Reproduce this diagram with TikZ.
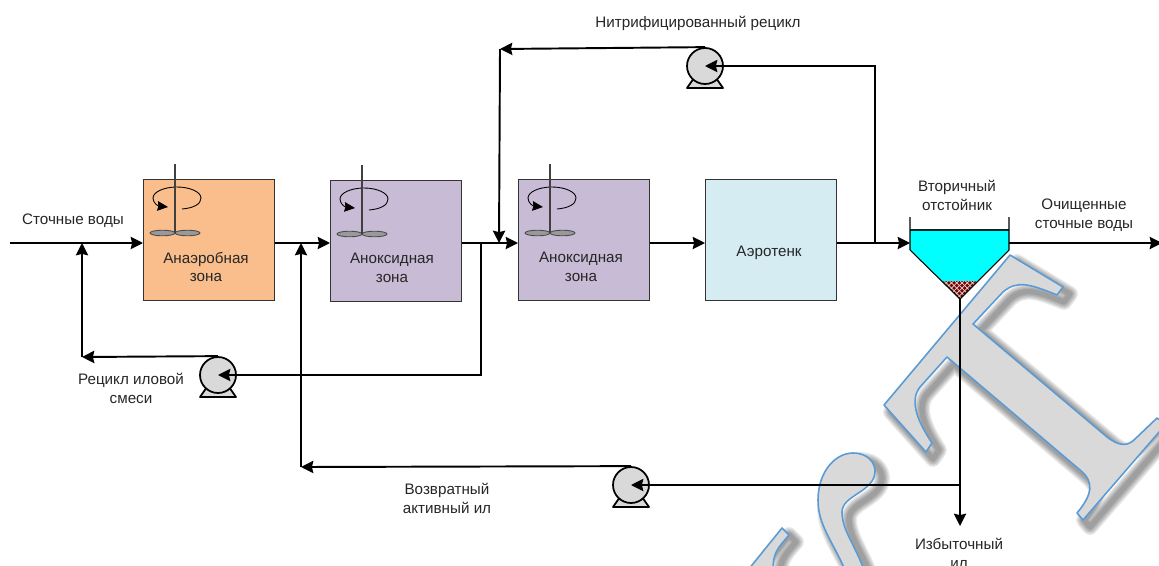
\documentclass[tikz,border=0pt]{standalone}
\usepackage{fontspec}
\setmainfont{Liberation Sans}
\usetikzlibrary{arrows.meta,patterns}
\definecolor{anaerfill}{HTML}{F9BE8C}
\definecolor{anoxfill}{HTML}{C8BBD6}
\definecolor{aerofill}{HTML}{D5ECF2}
\definecolor{waterfill}{HTML}{00FFFF}
\definecolor{markblue}{HTML}{5B9BD5}
\definecolor{markgray}{HTML}{D9D9D9}
\tikzstyle{tank}=[draw=black!80,line width=0.7pt,anchor=north west,minimum width=2.62cm,minimum height=2.42cm,inner sep=0pt]
\tikzstyle{pump}=[circle,draw=black,fill=markgray,line width=1pt,minimum size=0.72cm,inner sep=0pt]
\tikzstyle{pumpbase}=[draw=black,fill=markgray,line width=1pt,line join=round]
\tikzstyle{flow}=[draw,line width=1.1pt,-{Stealth[inset=0.8pt,length=7pt,width=7pt]}]
\tikzstyle{caption}=[font=\fontsize{8.65}{10.8}\selectfont,align=center,text=black!85,inner sep=0pt]
\tikzstyle{watermark}=[draw=markblue,fill=markgray,line width=0.9pt,line join=round]
\tikzstyle{markshadow}=[draw=black,opacity=0.09,line join=round]
\def\markT{(1010,255) -- (1063,287) -- (1057,295) .. controls (1030,284) and (1017,280) .. (1003,292)
    -- (973,324) -- (1107,437) .. controls (1120,447) and (1128,446) .. (1135,439) -- (1157,418) -- (1166,424)
    -- (1083,520) -- (1077,513) .. controls (1092,495) and (1095,482) .. (1080,470) -- (947,357)
    -- (920,387) .. controls (908,402) and (920,425) .. (932,443) -- (926,452) -- (884,405) -- cycle}
\def\markR{(845,570) .. controls (832,540) and (818,525) .. (818,500) .. controls (818,472) and (835,453) .. (853,453)
    .. controls (868,453) and (875,463) .. (875,471) .. controls (875,492) and (842,495) .. (842,512)
    .. controls (842,530) and (855,545) .. (864,570) -- cycle}
\def\markS{(748,570) -- (782,528) -- (789,535) .. controls (778,548) and (773,552) .. (773,570) -- cycle}

\begin{document}
\begin{tikzpicture}[x=0.02cm,y=-0.02cm]
    \useasboundingbox (0,0) rectangle (1159,565);

    % Watermark letters stay behind the scheme
    \begin{scope}[shift={(7,7)}]
        \foreach \w in {9,7.5,6,4.5,3}
            \foreach \glyph in {\markT,\markR,\markS}
                \path[markshadow,line width=\w pt] \glyph;
    \end{scope}
    \foreach \glyph in {\markT,\markR,\markS}
        \path[watermark] \glyph;

    % First we draw the tanks
    \foreach \pos/\name/\col in {{(143,179)/Anaer/anaerfill},{(330,180)/AnoxA/anoxfill},{(518,179)/AnoxB/anoxfill},{(705,179)/Aero/aerofill}}
        \node[tank,fill=\col] (\name) at \pos {};

    % Stirrers
    \foreach \px/\py in {175/164,362/165,550/164} {
        \begin{scope}[shift={(\px,\py)}]
            \draw[line width=0.5pt,-{Stealth[inset=0.5pt,length=6pt,width=5.5pt]}] (7,45) .. controls (19,44) and (26,40) .. (26,34)
                .. controls (26,28) and (15,23) .. (2,23) .. controls (-11,23) and (-22,28) .. (-22,34)
                .. controls (-22,39) and (-17,42) .. (-7,43);
            \draw[draw=black!70,fill=black!40,line width=0.5pt] (-12.5,69) ellipse (12.5 and 2.8);
            \draw[draw=black!70,fill=black!40,line width=0.5pt] (12.5,69) ellipse (12.5 and 2.8);
            \draw[black!75,line width=1.2pt] (0,0) -- (0,69);
        \end{scope}
    }

    % Pumps
    \foreach \px/\py/\name in {705/66/PumpN,218/375/PumpR,631/485/PumpV} {
        \begin{scope}[shift={(\px,\py)}]
            \path[pumpbase] (-18,22) -- (-11,12) -- (11,12) -- (18,22) -- cycle;
            \node[pump] (\name) at (0,0) {};
        \end{scope}
    }

    % Secondary clarifier
    \coordinate (SetIn) at (910,243);
    \coordinate (SetOut) at (1009,243);
    \coordinate (SetBot) at (960,299);
    \fill[waterfill] (910,230) -- (1009,230) -- (1009,250) -- (960,299) -- (910,250) -- cycle;
    \fill[red!50!black] (943,281) -- (977,281) -- (960,299) -- cycle;
    \fill[pattern=crosshatch,pattern color=white!85!black] (943,281) -- (977,281) -- (960,299) -- cycle;
    \draw[black!70!teal,line width=0.9pt] (910,230) -- (1009,230);
    \draw[black,line width=0.6pt] (910,217) -- (910,250) -- (SetBot) -- (1009,250) -- (1009,217);

    % Junctions and corners
    \foreach \px/\py/\name in {10/243/In,82/243/JoinR,82/357/CornR,301/243/JoinV,301/467/CornV,
        481/243/TapR,499/243/JoinN,500/49/CornN,875/243/TapN,875/66/TurnN,481/375/TurnR,
        960/485/TapV,960/526/Waste,1162/243/Out}
        \coordinate (\name) at (\px,\py);

    % Connect everything along the main line
    \path[flow] (In) -- (Anaer.west |- In);
    \path[flow] (Anaer.east |- In) -- (AnoxA.west |- In);
    \path[flow] (AnoxA.east |- In) -- (AnoxB.west |- In);
    \path[flow] (AnoxB.east |- In) -- (Aero.west |- In);
    \path[flow] (Aero.east |- In) -- (SetIn);
    \path[flow] (SetOut) -- (Out);

    % Recycle lines
    \path[flow] (TapN) -- (TurnN) -- (PumpN.center);
    \path[flow] (PumpN.north) -- (CornN);
    \path[flow] (CornN) -- (JoinN);
    \path[flow] (TapR) -- (TurnR) -- (PumpR.center);
    \path[flow] (PumpR.north) -- (CornR);
    \path[flow] (CornR) -- (JoinR);
    \path[flow] (TapV) -- (PumpV.center);
    \path[flow] (PumpV.north) -- (CornV);
    \path[flow] (CornV) -- (JoinV);
    \path[flow] (SetBot) -- (Waste);

    % Labels
    \foreach \pos/\name/\txt in {{(73,221)/LabIn/Сточные воды},{(206,267)/LabAnaer/Анаэробная\\зона},
        {(392,268)/LabAnoxA/Аноксидная\\зона},{(581,267)/LabAnoxB/Аноксидная\\зона},{(769,253)/LabAero/Аэротенк},
        {(957,195)/LabSet/Вторичный\\отстойник},{(1084,215)/LabOut/Очищенные\\сточные воды},
        {(698,23)/LabN/Нитрифицированный рецикл},{(131,388)/LabR/Рецикл иловой\\смеси},
        {(447,498)/LabV/Возвратный\\активный ил},{(959,553)/LabW/Избыточный\\ил}}
        \node[caption] (\name) at \pos {\txt};
\end{tikzpicture}
\end{document}
